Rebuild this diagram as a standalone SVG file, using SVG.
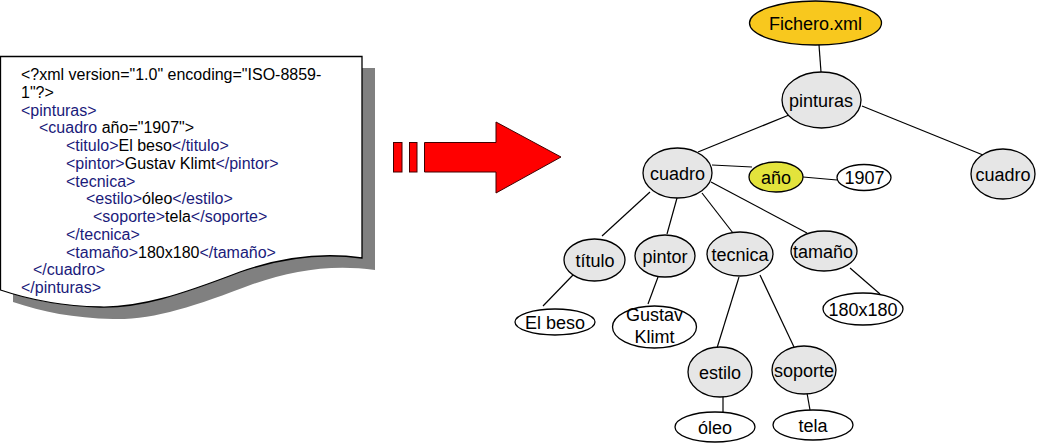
<svg xmlns="http://www.w3.org/2000/svg" width="1039" height="443" viewBox="0 0 1039 443">
<style>
.doc{font-family:"Liberation Sans",Arial,sans-serif;font-size:16px;fill:#000}
.tg{fill:#1a1a7a}
.n{stroke:#000;stroke-width:1.3}
.g{fill:#e6e6e6}
.w{fill:#fff}
.lbl{font-family:"Liberation Sans",Arial,sans-serif;font-size:18px;fill:#000;text-anchor:middle}
.c{stroke:#000;stroke-width:1.2;fill:none}
</style>
<rect width="1039" height="443" fill="#fff"/>
<g id="document">
<path d="M13,68 H375 V270 C333,264 293,270 253,284 C193,307 153,320 113,319 C73,318 43,312 13,302 Z" fill="#808080"/>
<path d="M0.5,56.5 H362 V258 C320,252 280,258 240,272 C180,295 140,308 100,307 C60,306 30,300 0.5,290 Z" fill="#fff" stroke="#000" stroke-width="1.3"/>
<text class="doc">
<tspan x="21" y="80">&lt;?xml version="1.0" encoding="ISO-8859-</tspan>
<tspan x="21" y="97.75">1"?&gt;</tspan>
<tspan x="21" y="115.5" class="tg">&lt;pinturas&gt;</tspan>
<tspan x="39" y="133.25" class="tg">&lt;cuadro</tspan><tspan> año="1907"&gt;</tspan>
<tspan x="66" y="151" class="tg">&lt;titulo&gt;</tspan><tspan>El beso</tspan><tspan class="tg">&lt;/titulo&gt;</tspan>
<tspan x="66" y="168.75" class="tg">&lt;pintor&gt;</tspan><tspan>Gustav Klimt</tspan><tspan class="tg">&lt;/pintor&gt;</tspan>
<tspan x="66" y="186.5" class="tg">&lt;tecnica&gt;</tspan>
<tspan x="86" y="204.25" class="tg">&lt;estilo&gt;</tspan><tspan>óleo</tspan><tspan class="tg">&lt;/estilo&gt;</tspan>
<tspan x="93" y="222" class="tg">&lt;soporte&gt;</tspan><tspan>tela</tspan><tspan class="tg">&lt;/soporte&gt;</tspan>
<tspan x="66" y="239.75" class="tg">&lt;/tecnica&gt;</tspan>
<tspan x="66" y="257.5" class="tg">&lt;tamaño&gt;</tspan><tspan>180x180</tspan><tspan class="tg">&lt;/tamaño&gt;</tspan>
<tspan x="33" y="275.25" class="tg">&lt;/cuadro&gt;</tspan>
<tspan x="21" y="293" class="tg">&lt;/pinturas&gt;</tspan>
</text>
</g>
<g id="arrow" fill="#ff0000" stroke="#400000" stroke-width="1">
<rect x="393.5" y="142.5" width="8.5" height="29.5"/>
<rect x="409.5" y="142.5" width="7.5" height="29.5"/>
<path d="M424.5,142.5 H496 V122 L561,157 L496,193 V172 H424.5 Z"/>
</g>
<g id="connectors" class="c">
<line x1="819" y1="45" x2="821" y2="72"/>
<line x1="789" y1="115" x2="698" y2="152"/>
<line x1="862" y1="106" x2="983" y2="155"/>
<line x1="712" y1="165" x2="752" y2="167"/>
<line x1="803" y1="177" x2="837" y2="180"/>
<line x1="650" y1="192" x2="602" y2="236"/>
<line x1="677" y1="198" x2="667" y2="234"/>
<line x1="702" y1="193" x2="733" y2="233"/>
<line x1="711" y1="182" x2="807" y2="233"/>
<line x1="573" y1="275" x2="543" y2="306"/>
<line x1="658" y1="277" x2="648" y2="304"/>
<line x1="739" y1="277" x2="717" y2="348"/>
<line x1="760" y1="275" x2="794" y2="347"/>
<line x1="850" y1="268" x2="880" y2="294"/>
<line x1="723" y1="396" x2="723" y2="412"/>
<line x1="807" y1="393" x2="810" y2="410"/>
</g>
<g id="fichero"><ellipse class="n" cx="815.5" cy="23" rx="66" ry="22" fill="#f8c81e"/><text class="lbl" x="815.5" y="29.5">Fichero.xml</text></g>
<g id="pinturas"><ellipse class="n g" cx="821.5" cy="100" rx="39.5" ry="28"/><text class="lbl" x="821" y="106.5">pinturas</text></g>
<g id="cuadro1"><ellipse class="n g" cx="677.5" cy="173" rx="34.5" ry="25"/><text class="lbl" x="677.5" y="179.5">cuadro</text></g>
<g id="anio"><ellipse class="n" cx="776" cy="177" rx="27" ry="15" fill="#e3e33c"/><text class="lbl" x="776" y="183.5">año</text></g>
<g id="v1907"><ellipse class="n w" cx="864" cy="177.5" rx="27" ry="13"/><text class="lbl" x="864.5" y="184">1907</text></g>
<g id="cuadro2"><ellipse class="n g" cx="1003" cy="174" rx="32" ry="25"/><text class="lbl" x="1003" y="180.5">cuadro</text></g>
<g id="titulo"><ellipse class="n g" cx="594.5" cy="260" rx="30.5" ry="21"/><text class="lbl" x="595" y="266.5">título</text></g>
<g id="pintor"><ellipse class="n g" cx="665" cy="256" rx="30" ry="21"/><text class="lbl" x="665" y="262.5">pintor</text></g>
<g id="tecnica"><ellipse class="n g" cx="740" cy="254" rx="33" ry="22"/><text class="lbl" x="740" y="260.5">tecnica</text></g>
<g id="tamano"><ellipse class="n g" cx="824" cy="251" rx="33" ry="20"/><text class="lbl" x="823" y="257.5">tamaño</text></g>
<g id="elbeso"><ellipse class="n w" cx="555" cy="322" rx="40" ry="13"/><text class="lbl" x="555" y="328.5">El beso</text></g>
<g id="gustav"><ellipse class="n w" cx="654.5" cy="327" rx="42" ry="21"/><text class="lbl" x="654.5" y="321">Gustav</text><text class="lbl" x="654.5" y="343">Klimt</text></g>
<g id="v180"><ellipse class="n w" cx="863" cy="309" rx="40" ry="16"/><text class="lbl" x="863" y="315.5">180x180</text></g>
<g id="estilo"><ellipse class="n g" cx="720" cy="372" rx="32" ry="25"/><text class="lbl" x="720" y="378.5">estilo</text></g>
<g id="soporte"><ellipse class="n g" cx="804" cy="370" rx="32" ry="24"/><text class="lbl" x="804" y="376.5">soporte</text></g>
<g id="oleo"><ellipse class="n w" cx="715" cy="427" rx="40" ry="15"/><text class="lbl" x="715" y="433.5">óleo</text></g>
<g id="tela"><ellipse class="n w" cx="813" cy="425" rx="40" ry="15"/><text class="lbl" x="813" y="431.5">tela</text></g>
</svg>
